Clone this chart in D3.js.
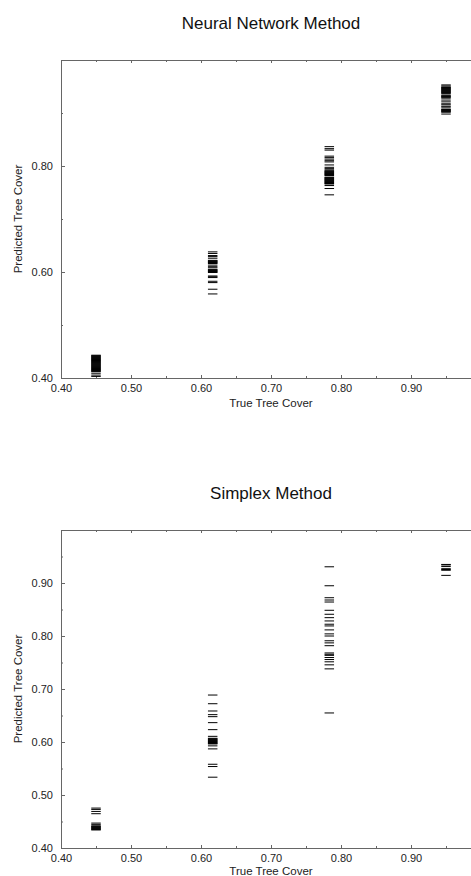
<!DOCTYPE html>
<html>
<head>
<meta charset="utf-8">
<script src="https://cdn.jsdelivr.net/npm/d3@7"></script>
<style>
body { margin: 0; background: #fff; }
svg { display: block; font-family: "Liberation Sans", Arial, sans-serif; }
</style>
</head>
<body>
<script>
// true tree cover of the four classes
var trueCover = [0.45, 0.6167, 0.7833, 0.95];

// Neural network method: predicted cover, one list per class
var nnClass1 = [0.443, 0.442, 0.441, 0.440, 0.439, 0.438, 0.437, 0.436, 0.435, 0.434,
                0.433, 0.432, 0.431, 0.430, 0.429, 0.428, 0.427, 0.426, 0.425, 0.424,
                0.423, 0.422, 0.421, 0.420, 0.419, 0.418, 0.417, 0.416, 0.415, 0.414,
                0.413, 0.412, 0.409, 0.4055, 0.403];
var nnClass2 = [0.638, 0.635, 0.631, 0.629, 0.626, 0.622, 0.621, 0.620, 0.619, 0.618,
                0.617, 0.616, 0.613, 0.610, 0.608, 0.605, 0.604, 0.603, 0.602, 0.601,
                0.600, 0.599, 0.5925, 0.591, 0.5895, 0.5825, 0.580, 0.5675, 0.5586];
var nnClass3 = [0.8365, 0.8327, 0.830, 0.8186, 0.8158, 0.813, 0.810, 0.8077, 0.802, 0.7975,
                0.795, 0.7927, 0.791, 0.790, 0.789, 0.788, 0.787, 0.786, 0.785, 0.784,
                0.783, 0.782, 0.779, 0.778, 0.777, 0.776, 0.775, 0.774, 0.773, 0.772,
                0.771, 0.770, 0.769, 0.768, 0.767, 0.766, 0.7631, 0.7575, 0.7456];
var nnClass4 = [0.953, 0.951, 0.949, 0.948, 0.947, 0.946, 0.945, 0.944, 0.943, 0.942,
                0.941, 0.940, 0.939, 0.938, 0.937, 0.934, 0.9325, 0.9315, 0.9305, 0.9296,
                0.928, 0.9244, 0.921, 0.9174, 0.9155, 0.9127, 0.911, 0.9075, 0.9065, 0.9055,
                0.9045, 0.9035, 0.9025, 0.9015, 0.898];

// Simplex method: predicted cover, one list per class
var sxClass1 = [0.4753, 0.4728, 0.469, 0.4647, 0.447, 0.4446, 0.4418, 0.441, 0.440, 0.439,
                0.438, 0.437, 0.436, 0.435, 0.434];
var sxClass2 = [0.6886, 0.6722, 0.6585, 0.6516, 0.6478, 0.6365, 0.6233, 0.6107, 0.607, 0.606,
                0.605, 0.604, 0.603, 0.602, 0.601, 0.600, 0.599, 0.598, 0.597, 0.5964,
                0.5927, 0.587, 0.558, 0.5537, 0.5336];
var sxClass3 = [0.9306, 0.8948, 0.8722, 0.8679, 0.8641, 0.8485, 0.841, 0.8346, 0.8284, 0.8222,
                0.819, 0.8115, 0.804, 0.800, 0.791, 0.787, 0.7817, 0.768, 0.7655, 0.7635,
                0.7594, 0.7556, 0.7513, 0.7456, 0.738, 0.6548];
var sxClass4 = [0.935, 0.934, 0.931, 0.927, 0.9255, 0.924, 0.9144];

// tick values
var xMajor = [0.4, 0.5, 0.6, 0.7, 0.8, 0.9, 1.0];
var xMinor = [0.45, 0.55, 0.65, 0.75, 0.85, 0.95];
var nnYMajor = [0.4, 0.6, 0.8];
var nnYMinor = [0.5, 0.7, 0.9];
var sxYMajor = [0.4, 0.5, 0.6, 0.7, 0.8, 0.9];
var sxYMinor = [0.45, 0.55, 0.65, 0.75, 0.85, 0.95];

var W = 471, H = 876;
var svg = d3.select("body").append("svg")
    .attr("width", W)
    .attr("height", H);

var left = 61, plotW = 420, plotH = 318;
var axisColor = "#666", textColor = "#222";

function drawPanel(top, title, classes, yMajor, yMinor, xTitleOffset) {
  var x = d3.scaleLinear().domain([0.4, 1.0]).range([left, left + plotW]);
  var y = d3.scaleLinear().domain([0.4, 1.0]).range([top + plotH, top]);
  var g = svg.append("g");

  // title
  g.append("text")
    .attr("x", left + plotW / 2)
    .attr("y", top - 31)
    .attr("text-anchor", "middle")
    .style("font-size", "17px")
    .style("fill", "#111")
    .text(title);

  // axes (ticks point inward)
  function styleAxis(sel) {
    sel.select(".domain").remove();
    sel.selectAll("line").attr("stroke", axisColor);
    sel.selectAll("text").style("fill", textColor).style("font-size", "11px")
      .attr("font-family", null);
  }
  g.append("g").attr("transform", "translate(0," + (top + plotH) + ")")
    .call(d3.axisBottom(x).tickValues(xMajor.slice(0, 6)).tickSize(-3).tickPadding(6)
      .tickFormat(d3.format(".2f")))
    .call(styleAxis);
  g.append("g").attr("transform", "translate(0," + (top + plotH) + ")")
    .call(d3.axisBottom(x).tickValues(xMinor.concat([1.0])).tickSize(-2).tickFormat(""))
    .call(styleAxis);
  g.append("g").attr("transform", "translate(0," + top + ")")
    .call(d3.axisTop(x).tickValues(xMajor).tickSize(-3).tickFormat(""))
    .call(styleAxis);
  g.append("g").attr("transform", "translate(0," + top + ")")
    .call(d3.axisTop(x).tickValues(xMinor).tickSize(-2).tickFormat(""))
    .call(styleAxis);
  g.append("g").attr("transform", "translate(" + left + ",0)")
    .call(d3.axisLeft(y).tickValues(yMajor).tickSize(-4).tickPadding(8)
      .tickFormat(d3.format(".2f")))
    .call(styleAxis);
  g.append("g").attr("transform", "translate(" + left + ",0)")
    .call(d3.axisLeft(y).tickValues(yMinor).tickSize(-2).tickFormat(""))
    .call(styleAxis);

  // frame
  g.append("rect")
    .attr("x", left + 0.5).attr("y", top + 0.5)
    .attr("width", plotW).attr("height", plotH)
    .attr("fill", "none")
    .attr("stroke", axisColor);

  // axis titles
  g.append("text")
    .attr("x", left + plotW / 2)
    .attr("y", top + plotH + xTitleOffset)
    .attr("text-anchor", "middle")
    .style("font-size", "11.5px")
    .style("fill", textColor)
    .text("True Tree Cover");
  g.append("text")
    .attr("transform", "translate(21.5," + (top + plotH / 2) + ") rotate(-90)")
    .attr("text-anchor", "middle")
    .style("font-size", "11.5px")
    .style("fill", textColor)
    .text("Predicted Tree Cover");

  // one short dash per prediction
  classes.forEach(function (vals, i) {
    g.selectAll(null)
      .data(vals)
      .enter().append("line")
      .attr("x1", x(trueCover[i]) - 4.75)
      .attr("x2", x(trueCover[i]) + 4.75)
      .attr("y1", function (d) { return y(d); })
      .attr("y2", function (d) { return y(d); })
      .attr("stroke", "#000")
      .attr("stroke-width", 1);
  });
}

drawPanel(60, "Neural Network Method", [nnClass1, nnClass2, nnClass3, nnClass4], nnYMajor, nnYMinor, 29);
drawPanel(530, "Simplex Method", [sxClass1, sxClass2, sxClass3, sxClass4], sxYMajor, sxYMinor, 27);
</script>
</body>
</html>
